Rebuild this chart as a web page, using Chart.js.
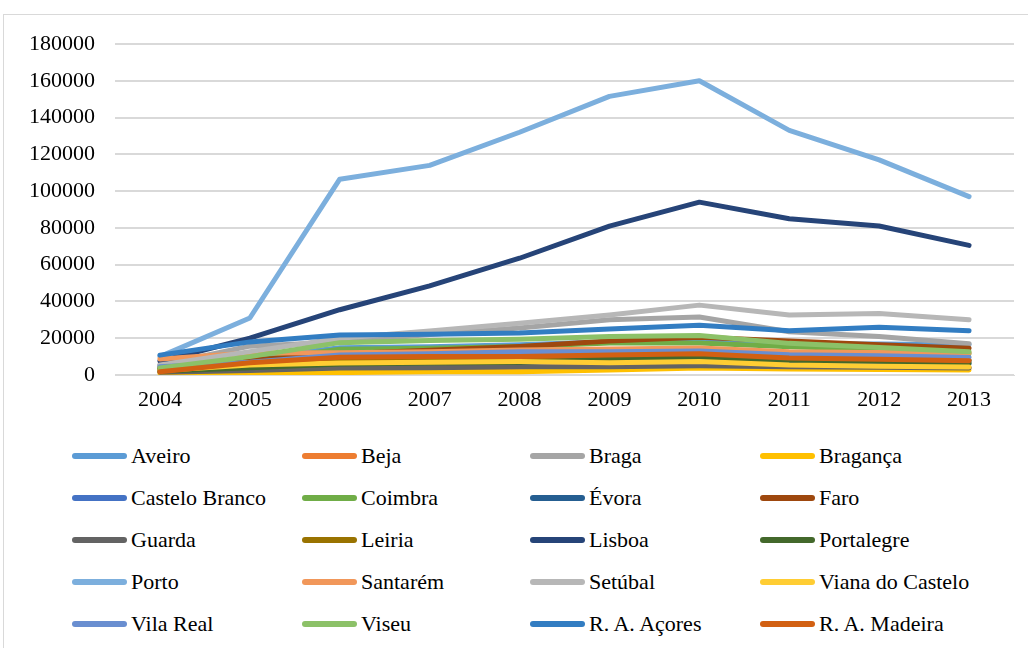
<!DOCTYPE html>
<html>
<head>
<meta charset="utf-8">
<script src="https://cdn.jsdelivr.net/npm/chart.js@4.4.1/dist/chart.umd.min.js"></script>
<style>
  html, body { margin: 0; padding: 0; background: #fff; }
  #wrap { position: relative; width: 1028px; height: 648px; overflow: hidden; }
  #frame { position: absolute; left: 3px; top: 14px; width: 1100px; height: 700px; border: 1px solid #d9d9d9; box-sizing: border-box; }
  #chartBox { position: absolute; left: 0; top: 0; width: 1028px; height: 425px; }
  #legend { position: absolute; left: 72px; top: 435px; display: grid; grid-template-columns: 230px 228px 230px 260px; grid-auto-rows: 42px; font-family: "Liberation Serif", "Times New Roman", Times, "DejaVu Serif", serif; font-size: 22px; color: #000; }
  .item { display: flex; align-items: center; white-space: nowrap; }
  .swatch { width: 55px; height: 6px; border-radius: 3px; margin-right: 4px; }
</style>
</head>
<body>
<div id="wrap">
  <div id="frame"></div>
  <div id="chartBox"><canvas id="chart"></canvas></div>
  <div id="legend"></div>
</div>
<script>
// Anos e distritos
var years = ['2004', '2005', '2006', '2007', '2008', '2009', '2010', '2011', '2012', '2013'];

var aveiro         = [5000, 9000, 14800, 15400, 16500, 18100, 18700, 17000, 16800, 16500];
var beja           = [1500, 2500, 3500, 3800, 4200, 4800, 5200, 4600, 4300, 3800];
var braga          = [5400, 15700, 18000, 22000, 25500, 30000, 31500, 23500, 21000, 17000];
var braganca       = [1000, 1000, 1300, 1800, 1800, 2700, 3800, 3300, 3000, 2700];
var casteloBranco  = [3000, 5500, 7500, 8000, 8500, 9500, 10000, 9000, 8500, 7500];
var coimbra        = [3500, 7500, 14000, 14500, 15500, 17400, 17400, 15400, 14000, 11500];
var evora          = [2500, 4500, 6000, 6500, 7000, 8000, 8500, 7500, 7000, 6000];
var faro           = [4000, 8000, 11500, 13500, 15500, 18500, 20500, 18500, 16500, 14500];
var guarda         = [1500, 2500, 3800, 4000, 4500, 4500, 5000, 4500, 4200, 3800];
var leiria         = [3000, 6000, 8500, 9000, 9500, 10500, 11000, 9500, 9000, 8000];
var lisboa         = [7500, 20000, 35500, 48500, 63500, 81000, 94000, 85000, 81000, 70500];
var portalegre     = [2000, 4000, 6000, 6500, 7000, 8500, 9200, 8000, 7500, 6500];
var porto          = [10000, 31000, 106500, 114000, 132000, 151500, 160000, 133000, 117000, 97000];
var santarem       = [8700, 12000, 12100, 12700, 13600, 14100, 14700, 12700, 12300, 12000];
var setubal        = [5400, 12700, 20000, 24000, 28200, 32600, 38000, 32600, 33500, 30000];
var vianaCastelo   = [2500, 5400, 6500, 7000, 7300, 6700, 7300, 5400, 4800, 4300];
var vilaReal       = [4500, 7000, 10900, 11500, 12700, 12700, 13000, 11000, 10500, 9500];
var viseu          = [3800, 10000, 17600, 18700, 19500, 21000, 21500, 17200, 15000, 12700];
var acores         = [10800, 18000, 21700, 22200, 22800, 25000, 27000, 24000, 26000, 24000];
var madeira        = [1800, 6700, 9700, 10000, 10000, 10900, 11500, 9200, 8500, 7800];

var names = ['Aveiro', 'Beja', 'Braga', 'Bragança', 'Castelo Branco', 'Coimbra', 'Évora', 'Faro',
             'Guarda', 'Leiria', 'Lisboa', 'Portalegre', 'Porto', 'Santarém', 'Setúbal',
             'Viana do Castelo', 'Vila Real', 'Viseu', 'R. A. Açores', 'R. A. Madeira'];
var series = [aveiro, beja, braga, braganca, casteloBranco, coimbra, evora, faro, guarda, leiria,
              lisboa, portalegre, porto, santarem, setubal, vianaCastelo, vilaReal, viseu, acores, madeira];
var colors = ['#5B9BD5', '#ED7D31', '#A5A5A5', '#FFC000', '#4472C4', '#70AD47', '#255E91', '#9E480E',
              '#636363', '#997300', '#264478', '#43682B', '#7CAFDD', '#F1975A', '#B7B7B7',
              '#FFCD33', '#698ED0', '#8CC168', '#327DC2', '#D26012'];

var datasets = names.map(function (n, i) {
  return {
    label: n,
    data: series[i],
    borderColor: colors[i],
    backgroundColor: colors[i],
    borderWidth: 5,
    borderCapStyle: 'round',
    borderJoinStyle: 'round',
    pointRadius: 0,
    tension: 0,
    fill: false,
    order: names.length - i  // later series drawn on top
  };
});

var font = '"Liberation Serif", "Times New Roman", Times, "DejaVu Serif", serif';

new Chart(document.getElementById('chart'), {
  type: 'line',
  data: { labels: years, datasets: datasets },
  options: {
    responsive: true,
    maintainAspectRatio: false,
    animation: false,
    layout: { padding: { top: 44, right: 14, left: 0, bottom: 0 } },
    plugins: { legend: { display: false }, tooltip: { enabled: false } },
    scales: {
      x: {
        offset: true,
        grid: { display: false, drawTicks: false },
        border: { display: true, color: '#d9d9d9', width: 1 },
        ticks: { color: '#000', font: { family: font, size: 22 }, padding: 12 },
        afterFit: function (s) { s.height = 50; }
      },
      y: {
        min: 0,
        max: 180000,
        ticks: {
          stepSize: 20000,
          color: '#000',
          font: { family: font, size: 22 },
          padding: 20,
          callback: function (v) { return String(v); }
        },
        grid: { color: '#d9d9d9', lineWidth: 2, drawTicks: false },
        border: { display: false },
        afterFit: function (s) { s.width = 115; }
      }
    }
  }
});

// legenda em grelha de 4 colunas
var legend = document.getElementById('legend');
names.forEach(function (n, i) {
  var item = document.createElement('div');
  item.className = 'item';
  var sw = document.createElement('span');
  sw.className = 'swatch';
  sw.style.background = colors[i];
  var tx = document.createElement('span');
  tx.textContent = n;
  item.appendChild(sw);
  item.appendChild(tx);
  legend.appendChild(item);
});
</script>
</body>
</html>
